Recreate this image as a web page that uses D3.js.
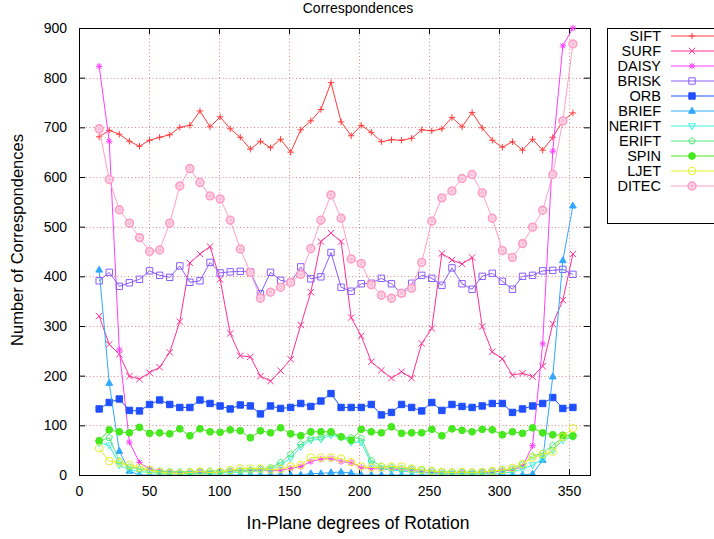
<!DOCTYPE html>
<html>
<head>
<meta charset="utf-8">
<script src="https://cdn.jsdelivr.net/npm/d3@7"></script>
<style>
  body { margin: 0; background: #fff; }
  svg { display: block; }
  text { font-family: "Liberation Sans", Arial, Helvetica, sans-serif; fill: #000; }
</style>
</head>
<body>
<svg id="chart" width="714" height="539"></svg>
<script>
// In-plane rotation angles (degrees) at which correspondences were counted
const angles = [14.4, 21.6, 28.8, 36, 43.2, 50.4, 57.6, 64.8, 72, 79.2, 86.4, 93.6,
  100.8, 108, 115.2, 122.4, 129.6, 136.8, 144, 151.2, 158.4, 165.6, 172.8, 180,
  187.2, 194.4, 201.6, 208.8, 216, 223.2, 230.4, 237.6, 244.8, 252, 259.2, 266.4,
  273.6, 280.8, 288, 295.2, 302.4, 309.6, 316.8, 324, 331.2, 338.4, 345.6, 352.8];

// Number of correspondences per descriptor
const sift = [681, 694, 686, 672, 662, 674, 680, 685, 700, 704, 733, 701, 721, 697, 680, 656,
  672, 659, 676, 650, 695, 713, 736, 790, 711, 683, 704, 690, 671, 675, 674, 678,
  695, 693, 697, 720, 701, 730, 699, 674, 660, 671, 654, 676, 654, 680, 713, 729];
const surf = [320, 263, 243, 199, 193, 206, 217, 247, 309, 427, 445, 460, 394, 285, 240, 238,
  199, 189, 210, 233, 302, 368, 470, 487, 470, 317, 280, 228, 211, 195, 208, 195,
  265, 295, 446, 433, 425, 438, 299, 248, 234, 201, 205, 198, 219, 304, 352, 445];
const daisy = [823, 672, 252, 66, 25, 12, 8, 6, 5, 5, 6, 4, 5, 8, 9, 9,
  10, 8, 10, 13, 17, 27, 32, 33, 27, 25, 15, 13, 12, 12, 10, 10,
  6, 5, 4, 3, 5, 4, 5, 6, 8, 10, 17, 59, 264, 652, 864, 900];
const brisk = [391, 408, 380, 387, 394, 411, 402, 398, 421, 388, 391, 428, 407, 409, 410, 409,
  365, 408, 392, 388, 419, 395, 399, 448, 378, 370, 385, 386, 396, 385, 366, 386,
  402, 396, 382, 417, 385, 374, 400, 406, 390, 374, 400, 402, 411, 412, 414, 404];
const orb = [133, 146, 153, 130, 129, 142, 151, 142, 136, 136, 151, 144, 139, 133, 141, 139,
  123, 139, 134, 136, 144, 138, 149, 164, 136, 136, 136, 142, 121, 126, 142, 136,
  129, 146, 130, 142, 138, 136, 139, 144, 144, 126, 133, 139, 144, 156, 134, 136];
const brief = [413, 185, 48, 8, 0, 0, 0, 0, 0, 0, 0, 0, 0, 0, 0, 0,
  0, 0, 0, 0, 0, 3, 3, 5, 6, 4, 0, 0, 0, 0, 0, 0,
  0, 0, 0, 0, 0, 0, 0, 0, 0, 0, 0, 2, 30, 198, 432, 542];
const nerift = [64, 60, 20, 10, 7, 5, 4, 3, 3, 3, 3, 3, 4, 5, 6, 7,
  8, 12, 20, 34, 57, 70, 72, 80, 76, 66, 66, 23, 13, 10, 8, 6,
  5, 3, 3, 2, 2, 2, 3, 3, 4, 6, 12, 20, 32, 50, 70, 77];
const erift = [68, 75, 28, 16, 12, 9, 8, 7, 6, 7, 7, 8, 8, 8, 9, 10,
  12, 15, 25, 42, 62, 74, 76, 84, 77, 75, 74, 29, 18, 15, 13, 12,
  10, 8, 7, 6, 6, 6, 6, 8, 9, 12, 21, 38, 44, 60, 75, 77];
const spin = [69, 91, 87, 85, 96, 84, 85, 83, 93, 79, 93, 87, 86, 91, 89, 75,
  89, 85, 95, 83, 79, 87, 87, 87, 77, 70, 92, 87, 85, 97, 84, 85,
  85, 92, 79, 93, 90, 87, 92, 91, 81, 87, 84, 95, 85, 81, 80, 79];
const ljet = [54, 28, 25, 20, 15, 10, 6, 4, 3, 5, 7, 5, 6, 10, 13, 13,
  13, 11, 12, 17, 20, 35, 35, 35, 33, 26, 17, 15, 16, 17, 17, 13,
  10, 8, 6, 5, 6, 5, 6, 8, 10, 14, 22, 35, 42, 47, 77, 94];
const ditec = [697, 595, 534, 507, 478, 450, 453, 507, 582, 617, 589, 562, 556, 513, 455, 408,
  356, 368, 378, 388, 404, 456, 513, 564, 517, 435, 426, 383, 362, 356, 366, 376,
  428, 511, 558, 572, 597, 605, 568, 517, 452, 438, 466, 499, 533, 605, 713, 868];

const seriesNames = ["SIFT", "SURF", "DAISY", "BRISK", "ORB", "BRIEF", "NERIFT", "ERIFT", "SPIN", "LJET", "DITEC"];
const seriesValues = [sift, surf, daisy, brisk, orb, brief, nerift, erift, spin, ljet, ditec];
const seriesColors = ["#ff3a3a", "#ff2f93", "#ff3cff", "#8a5cff", "#1f4fff", "#2fa8ff",
  "#3cf0e0", "#55e87a", "#46e81e", "#e2f02a", "#ff9fc6"];
const seriesMarkers = ["plus", "cross", "star", "square", "squareFilled", "triangleFilled",
  "triangleDown", "pentagon", "circleFilled", "circle", "ditec"];

const xTicks = [0, 50, 100, 150, 200, 250, 300, 350];
const yTicks = [0, 100, 200, 300, 400, 500, 600, 700, 800, 900];

const svg = d3.select("#chart");
const plotLeft = 79, plotRight = 590, plotTop = 28, plotBottom = 475;
const x = d3.scaleLinear().domain([0, 365]).range([plotLeft, plotRight]);
const y = d3.scaleLinear().domain([0, 900]).range([plotBottom, plotTop]);

// dotted grid
const grid = svg.append("g").attr("stroke", "#e08a8a").attr("stroke-width", 1)
  .attr("stroke-dasharray", "1,2.5");
grid.selectAll("line.gx").data(xTicks).join("line").attr("class", "gx")
  .attr("x1", d => Math.round(x(d)) + 0.5).attr("x2", d => Math.round(x(d)) + 0.5)
  .attr("y1", plotTop).attr("y2", plotBottom);
grid.selectAll("line.gy").data(yTicks).join("line").attr("class", "gy")
  .attr("x1", plotLeft).attr("x2", plotRight)
  .attr("y1", d => Math.round(y(d)) + 0.5).attr("y2", d => Math.round(y(d)) + 0.5);

// axes with inward ticks, mirrored on the opposite sides
function styleAxis(g) {
  g.select(".domain").remove();
  g.selectAll(".tick line").attr("stroke", "#000");
  g.selectAll(".tick text").style("font-size", "14px").attr("fill", "#000");
}
svg.append("g").attr("transform", `translate(0,${plotBottom})`)
  .call(d3.axisBottom(x).tickValues(xTicks).tickSize(-6).tickPadding(11))
  .call(styleAxis);
svg.append("g").attr("transform", `translate(0,${plotTop})`)
  .call(d3.axisTop(x).tickValues(xTicks).tickSize(-6).tickFormat(""))
  .call(styleAxis);
svg.append("g").attr("transform", `translate(${plotLeft},0)`)
  .call(d3.axisLeft(y).tickValues(yTicks).tickSize(-6).tickPadding(12))
  .call(styleAxis);
svg.append("g").attr("transform", `translate(${plotRight},0)`)
  .call(d3.axisRight(y).tickValues(yTicks).tickSize(-6).tickFormat(""))
  .call(styleAxis);

// plot frame
svg.append("rect").attr("x", plotLeft + 0.5).attr("y", plotTop + 0.5)
  .attr("width", plotRight - plotLeft).attr("height", plotBottom - plotTop)
  .attr("fill", "none").attr("stroke", "#000").attr("stroke-width", 1);

// marker shapes
function markerPath(type, s) {
  switch (type) {
    case "plus": return `M${-s},0H${s}M0,${-s}V${s}`;
    case "cross": return `M${-s},${-s}L${s},${s}M${-s},${s}L${s},${-s}`;
    case "star": return `M${-s},0H${s}M0,${-s}V${s}M${-s * 0.75},${-s * 0.75}L${s * 0.75},${s * 0.75}M${-s * 0.75},${s * 0.75}L${s * 0.75},${-s * 0.75}`;
    case "square": case "squareFilled": return `M${-s},${-s}H${s}V${s}H${-s}Z`;
    case "triangleFilled": return `M0,${-s * 1.15}L${s * 1.05},${s * 0.7}H${-s * 1.05}Z`;
    case "triangleDown": return `M0,${s * 1.15}L${s * 1.05},${-s * 0.7}H${-s * 1.05}Z`;
    case "pentagon": {
      const p = d3.range(5).map(i => {
        const a = -Math.PI / 2 + i * 2 * Math.PI / 5;
        return [s * 1.05 * Math.cos(a), s * 1.05 * Math.sin(a)];
      });
      return "M" + p.map(q => q.join(",")).join("L") + "Z";
    }
    default: return "";
  }
}

function drawMarker(g, type, color, cx, cy) {
  const s = 3.2;
  if (type === "circle" || type === "circleFilled") {
    g.append("circle").attr("cx", cx).attr("cy", cy).attr("r", type === "circle" ? 3.8 : 3.4)
      .attr("fill", type === "circle" ? "none" : color).attr("stroke", color).attr("stroke-width", 1);
  } else if (type === "ditec") {
    g.append("circle").attr("cx", cx).attr("cy", cy).attr("r", 3.8)
      .attr("fill", "#ffe3ee").attr("stroke", color).attr("stroke-width", 1.8);
    g.append("circle").attr("cx", cx).attr("cy", cy).attr("r", 1.3)
      .attr("fill", "none").attr("stroke", color).attr("stroke-width", 1);
  } else {
    const filled = type === "squareFilled" || type === "triangleFilled";
    g.append("path").attr("transform", `translate(${cx},${cy})`)
      .attr("d", markerPath(type, s))
      .attr("fill", filled ? color : "none")
      .attr("stroke", color).attr("stroke-width", 1);
  }
}

// data series
svg.append("clipPath").attr("id", "plotClip").append("rect")
  .attr("x", plotLeft).attr("y", plotTop - 4).attr("width", plotRight - plotLeft)
  .attr("height", plotBottom - plotTop + 4);
const plot = svg.append("g").attr("clip-path", "url(#plotClip)");
const line = d3.line().x((d, i) => x(angles[i])).y(d => y(d));

seriesNames.forEach((name, si) => {
  const vals = seriesValues[si], color = seriesColors[si];
  const g = plot.append("g");
  g.append("path").datum(vals).attr("d", line)
    .attr("fill", "none").attr("stroke", color).attr("stroke-width", 1);
  vals.forEach((v, i) => drawMarker(g, seriesMarkers[si], color, x(angles[i]), y(v)));
});

// legend
const legend = svg.append("g");
legend.append("rect").attr("x", 607.5).attr("y", 28.5).attr("width", 120).attr("height", 195)
  .attr("fill", "#fff").attr("stroke", "#000").attr("stroke-width", 1);
seriesNames.forEach((name, si) => {
  const ly = 36 + si * 15;
  legend.append("text").attr("x", 661).attr("y", ly + 5).attr("text-anchor", "end")
    .style("font-size", "14.5px").text(name);
  legend.append("line").attr("x1", 671).attr("x2", 714).attr("y1", ly).attr("y2", ly)
    .attr("stroke", seriesColors[si]).attr("stroke-width", 1);
  drawMarker(legend, seriesMarkers[si], seriesColors[si], 692, ly);
});

// titles
svg.append("text").attr("x", 358).attr("y", 13).attr("text-anchor", "middle")
  .style("font-size", "14px").text("Correspondences");
svg.append("text").attr("x", 358).attr("y", 529).attr("text-anchor", "middle")
  .style("font-size", "17.5px").text("In-Plane degrees of Rotation");
svg.append("text").attr("transform", "translate(23,240) rotate(-90)").attr("text-anchor", "middle")
  .style("font-size", "16.5px").text("Number of Correspondences");
</script>
</body>
</html>
